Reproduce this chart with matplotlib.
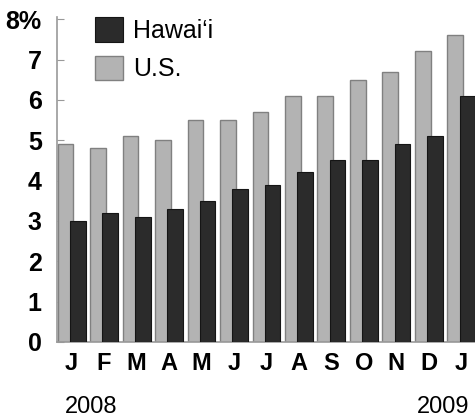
import numpy as np
import matplotlib
matplotlib.use('Agg')
import matplotlib.pyplot as plt

# Unemployment rate, monthly, Jan 2008 - Jan 2009
months = ['J', 'F', 'M', 'A', 'M', 'J', 'J', 'A', 'S', 'O', 'N', 'D', 'J']
us = [4.9, 4.8, 5.1, 5.0, 5.5, 5.5, 5.7, 6.1, 6.1, 6.5, 6.7, 7.2, 7.6]
hawaii = [3.0, 3.2, 3.1, 3.3, 3.5, 3.8, 3.9, 4.2, 4.5, 4.5, 4.9, 5.1, 6.1]
yticks = [0, 1, 2, 3, 4, 5, 6, 7, 8]
ytick_labels = ['0', '1', '2', '3', '4', '5', '6', '7', '8%']
years = ['2008', '2009']

plt.rcParams['font.family'] = ['Liberation Sans', 'DejaVu Sans']

fig = plt.figure(figsize=(4.75, 4.19), dpi=100)
ax = fig.add_axes([0.12, 0.184, 0.88, 0.775])

x = np.arange(len(months))
w = 0.48
off = 0.19
ax.bar(x - off, us, width=w, color='#b3b3b3', edgecolor='#808080',
       linewidth=1.0, label='U.S.', zorder=2)
ax.bar(x + off, hawaii, width=w, color='#2b2b2b', edgecolor='#151515',
       linewidth=0.8, label='Hawai\u2018i', zorder=3)

ax.set_xlim(-0.45, 12.42)
ax.set_ylim(0, 8.05)
ax.set_yticks(yticks)
ax.set_yticklabels(ytick_labels, fontsize=18, fontweight='bold')
ax.set_xticks(x)
ax.set_xticklabels(months, fontsize=17, fontweight='bold')
ax.tick_params(axis='y', direction='in', length=5, color='#999999', pad=11)
ax.tick_params(axis='x', length=0, pad=7)

for s in ['top', 'right']:
    ax.spines[s].set_visible(False)
for s in ['left', 'bottom']:
    ax.spines[s].set_color('#999999')
    ax.spines[s].set_linewidth(1.2)

# year labels under first and last month
ax.text(-0.2, -0.2, years[0], transform=ax.get_xaxis_transform(),
        fontsize=17, ha='left', va='center')
ax.text(12.25, -0.2, years[1], transform=ax.get_xaxis_transform(),
        fontsize=17, ha='right', va='center')

h, l = ax.get_legend_handles_labels()
ax.legend(h[::-1], l[::-1], loc='upper left', bbox_to_anchor=(0.09, 1.0),
          frameon=False, fontsize=18, handlelength=1.15, handleheight=1.15,
          handletextpad=0.4, labelspacing=0.5, borderpad=0, borderaxespad=0)

fig.savefig('out.png', dpi=100)
